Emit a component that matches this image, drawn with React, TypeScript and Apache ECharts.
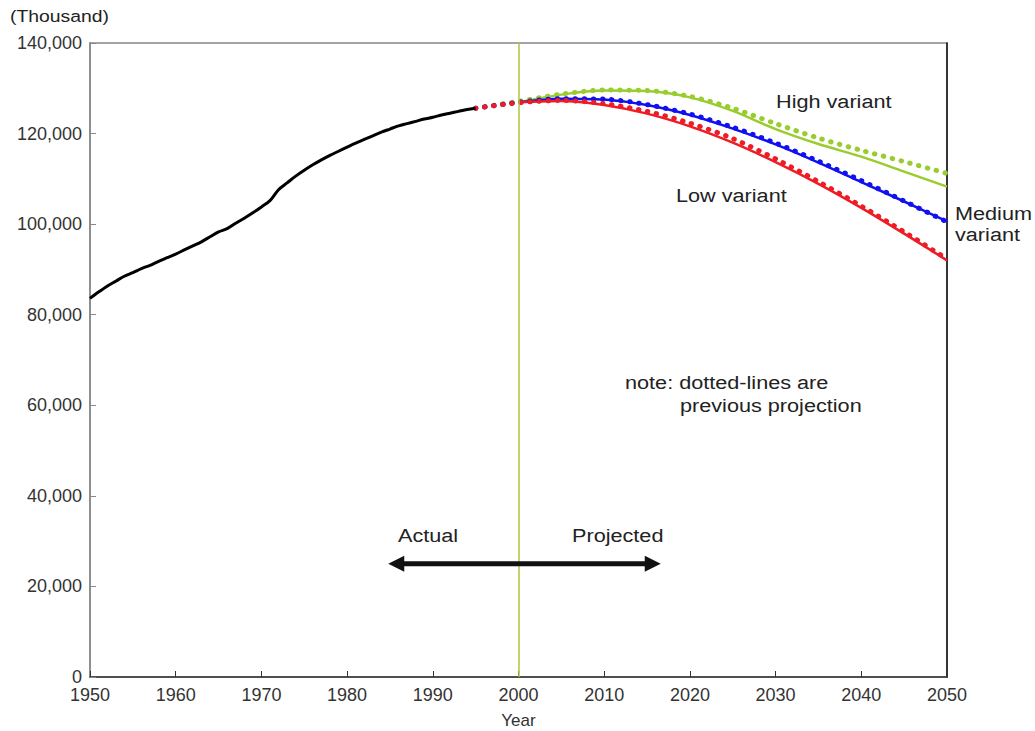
import React, { useEffect, useRef } from "react";
import * as echarts from "echarts";

const actualYears = [1950,1951,1952,1953,1954,1955,1956,1957,1958,1959,1960,1961,1962,1963,1964,1965,1966,1967,1968,1969,1970,1971,1972,1973,1974,1975,1976,1977,1978,1979,1980,1981,1982,1983,1984,1985,1986,1987,1988,1989,1990,1991,1992,1993,1994,1995];
const actualValues = [83600,85000,86300,87400,88500,89300,90200,90900,91800,92600,93400,94300,95200,96100,97200,98300,99000,100200,101300,102500,103800,105200,107600,109100,110600,111900,113100,114200,115200,116100,117000,117900,118700,119500,120300,121000,121700,122200,122700,123200,123600,124100,124500,124900,125300,125600];

const projYears = [2000,2005,2010,2015,2020,2025,2030,2035,2040,2045,2050];
const prevYears = [1995,2000,2005,2010,2015,2020,2025,2030,2035,2040,2045,2050];

const highNew = [126900,128600,129500,129400,128000,125000,121000,117700,114900,111600,108300];
const mediumNew = [126900,127700,127500,126300,124100,121100,117600,113600,109300,105000,100600];
const lowNew = [126900,127200,126300,124400,121600,118000,113700,108900,103600,97900,92000];

const highPrev = [125600,127100,128700,129600,129500,128200,125600,122200,119000,116300,113800,111200];
const mediumPrev = [125600,126900,127700,127600,126400,124300,121400,117900,113900,109600,105100,100500];
const lowPrev = [125600,126800,127300,126600,124900,122300,118900,114400,109400,104000,98300,92300];

const yTicks = [0, 20000, 40000, 60000, 80000, 100000, 120000, 140000];
const xTicks = [1950, 1960, 1970, 1980, 1990, 2000, 2010, 2020, 2030, 2040, 2050];

const GREEN = "#99cc2e";
const BLUE = "#1010f0";
const RED = "#ee1c24";
const FONT = "Liberation Sans, Arial, sans-serif";

const pairs = (xs: number[], ys: number[]) => xs.map((x, i) => [x, ys[i]]);

export default function App() {
  const ref = useRef<HTMLDivElement>(null);
  useEffect(() => {
    if (!ref.current) return;
    const chart = echarts.init(ref.current, null, { renderer: "svg" });
    const dotted = (name: string, color: string, ys: number[]) => ({
      name,
      type: "line",
      data: pairs(prevYears, ys),
      showSymbol: false,
      smooth: 0.3,
      z: 3,
      lineStyle: { color, width: 5, type: [0.5, 8.6], cap: "round" },
    });
    const solid = (name: string, color: string, ys: number[]) => ({
      name,
      type: "line",
      data: pairs(projYears, ys),
      showSymbol: false,
      smooth: 0.3,
      z: 2,
      lineStyle: { color, width: 2.5 },
    });
    chart.setOption({
      animation: false,
      grid: {
        left: 90,
        right: 88,
        top: 43,
        bottom: 54,
        outerBoundsMode: "none",
        containLabel: false,
        show: true,
        borderColor: "#888",
        borderWidth: 1.5,
      },
      xAxis: {
        type: "value",
        min: 1950,
        max: 2050,
        interval: 10,
        name: "Year",
        nameLocation: "middle",
        nameGap: 35,
        nameTextStyle: { fontFamily: FONT, fontSize: 17, color: "#333" },
        axisLine: { show: true, lineStyle: { color: "#333", width: 1.5 } },
        axisTick: { show: true, inside: true, length: 6, lineStyle: { color: "#333" } },
        axisLabel: {
          fontFamily: FONT,
          fontSize: 18,
          color: "#333",
          margin: 9,
          formatter: (v: number) => (xTicks.includes(v) ? String(v) : ""),
        },
        splitLine: { show: false },
      },
      yAxis: [
        {
          type: "value",
          min: 0,
          max: 140000,
          interval: 20000,
          axisLine: { show: true, lineStyle: { color: "#888", width: 1.5 } },
          axisTick: { show: true, inside: true, length: 6, lineStyle: { color: "#888" } },
          axisLabel: {
            fontFamily: FONT,
            fontSize: 18,
            color: "#333",
            margin: 8,
            formatter: (v: number) => (yTicks.includes(v) ? v.toLocaleString("en-US") : ""),
          },
          splitLine: { show: false },
        },
        {
          type: "value",
          min: 0,
          max: 140000,
          position: "right",
          axisLine: { show: true, onZero: false, lineStyle: { color: "#111", width: 1.5 } },
          axisTick: { show: false },
          axisLabel: { show: false },
          splitLine: { show: false },
        },
      ],
      series: [
        {
          name: "Actual",
          type: "line",
          data: pairs(actualYears, actualValues),
          showSymbol: false,
          smooth: 0.3,
          z: 4,
          lineStyle: { color: "#000", width: 3 },
          markLine: {
            silent: true,
            symbol: "none",
            label: { show: false },
            lineStyle: { color: "#a9c93c", width: 1.5, type: "solid" },
            data: [{ xAxis: 2000 }],
          },
        },
        solid("High variant", GREEN, highNew),
        solid("Medium variant", BLUE, mediumNew),
        solid("Low variant", RED, lowNew),
        dotted("High variant (previous)", GREEN, highPrev),
        dotted("Medium variant (previous)", BLUE, mediumPrev),
        dotted("Low variant (previous)", RED, lowPrev),
      ],
    });

    const p = (x: number, y: number) => chart.convertToPixel({ gridIndex: 0 }, [x, y]) as number[];
    const a1 = p(1984.8, 25000);
    const a2 = p(2016.6, 25000);
    const ah = 16;
    const aw = 8;
    const txt = (text: string, x: number, y: number, size = 19) => ({
      type: "text",
      x,
      y,
      scaleX: 1.14,
      style: { text, fill: "#222", font: `${size}px ${FONT}`, textVerticalAlign: "middle", textAlign: "left" },
    });
    chart.setOption({
      graphic: [
        txt("(Thousand)", 10, 16, 17),
        txt("High variant", 776, 101),
        txt("Low variant", 676, 195),
        txt("Medium", 955, 213),
        txt("variant", 955, 234),
        txt("note: dotted-lines are", 625, 382),
        txt("previous projection", 680, 405),
        txt("Actual", 398, 535),
        txt("Projected", 572, 535),
        {
          type: "line",
          shape: { x1: a1[0] + ah - 2, y1: a1[1], x2: a2[0] - ah + 2, y2: a2[1] },
          style: { stroke: "#111", lineWidth: 5 },
          z: 10,
        },
        {
          type: "polygon",
          shape: { points: [[a1[0], a1[1]], [a1[0] + ah, a1[1] - aw], [a1[0] + ah, a1[1] + aw]] },
          style: { fill: "#111" },
          z: 10,
        },
        {
          type: "polygon",
          shape: { points: [[a2[0], a2[1]], [a2[0] - ah, a2[1] - aw], [a2[0] - ah, a2[1] + aw]] },
          style: { fill: "#111" },
          z: 10,
        },
      ],
    });
    return () => chart.dispose();
  }, []);
  return <div ref={ref} style={{ position: "absolute", left: 0, top: 0, width: 1035, height: 731 }} />;
}
